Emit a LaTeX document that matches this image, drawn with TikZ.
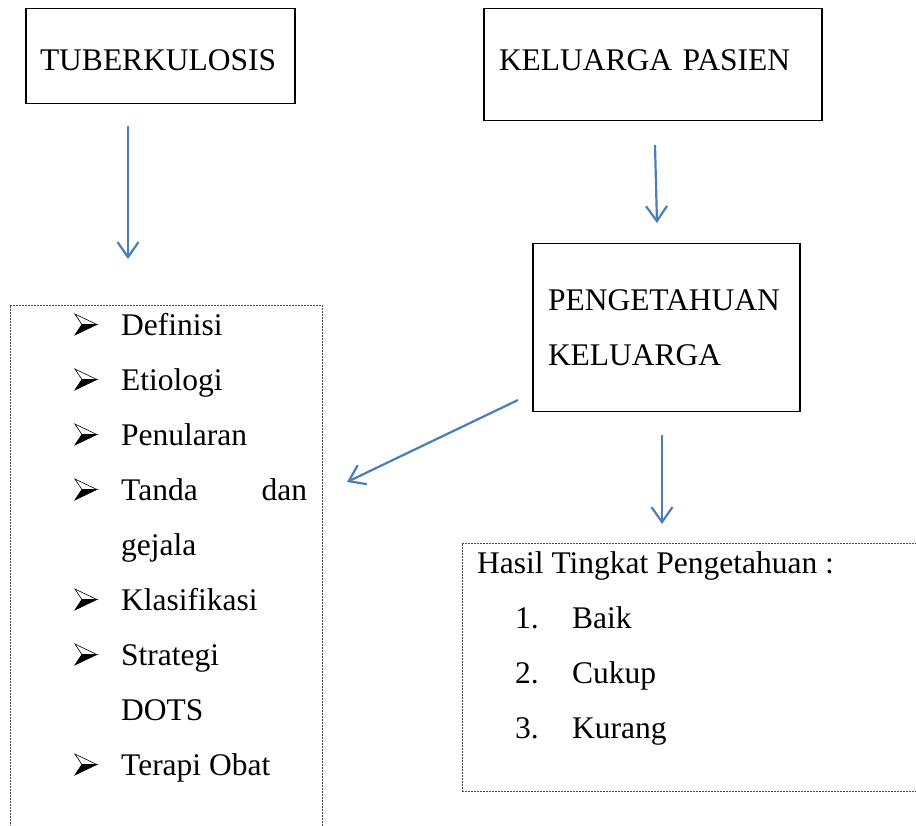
\documentclass[tikz,border=0pt]{standalone}
\usepackage{fontspec}
\setmainfont{Liberation Serif}
\usepackage{tikz}
\usetikzlibrary{arrows.meta,positioning}
\definecolor{arrowblue}{HTML}{4A7EBB}
\tikzstyle{block} = [rectangle, draw, line width=1.5pt, align=left, inner xsep=15pt]
\tikzstyle{frame} = [rectangle, draw=black!70, line width=0.8pt, dash pattern=on 2pt off 1pt]
\tikzstyle{line} = [draw, arrowblue, line width=2.2pt, -{Straight Barb[length=15pt,width=21pt]}]
\tikzstyle{item} = [anchor=base west, inner sep=0pt]
\newcommand{\bul}{\llap{\tikz[baseline=0pt, line width=0.6pt, line join=miter]{%
	\filldraw[fill=white] (0pt,21pt) -- (22pt,10.5pt) -- (7pt,10.5pt) -- cycle;
	\filldraw[fill=black] (0pt,0pt) -- (22pt,10.5pt) -- (7pt,10.5pt) -- cycle;}\hspace{24pt}}}

\begin{document}
\begin{tikzpicture}[x=1pt, y=-1pt, font=\fontsize{31.5}{55}\selectfont]
	\useasboundingbox (0,0) rectangle (916,825);
	\clip (0,0) rectangle (916,825);
	
	% Place nodes
	\node [block, text width=241pt, inner xsep=14pt, minimum height=95pt, text height=28.5pt, text depth=0pt] (tbc) at (160.5,55.75) {TUBERKULOSIS};
	\node [block, text width=308pt, minimum height=112pt, text height=21pt, text depth=10pt] (pasien) at (653,64.5) {KELUARGA PASIEN};
	\node [block, text width=237pt, minimum height=168pt] (pengetahuan) at (666.5,327.5) {PENGETAHUAN\\KELUARGA};
	
	\node [frame, anchor=north west, minimum width=312pt, minimum height=560pt] (topik) at (10,305) {};
	\node [frame, anchor=north west, minimum width=480pt, minimum height=248pt] (hasil) at (462,543) {};
	
	% List of topics
	\node [item] (definisi) at (121,335) {\bul Definisi};
	\node [item] (etiologi) at (121,390) {\bul Etiologi};
	\node [item] (penularan) at (121,445) {\bul Penularan};
	\node [item] (tanda) at (121,500) {\bul\makebox[186pt][l]{Tanda\hfill dan}};
	\node [item] (gejala) at (121,555) {gejala};
	\node [item] (klasifikasi) at (121,610) {\bul Klasifikasi};
	\node [item] (strategi) at (121,665) {\bul Strategi};
	\node [item] (dots) at (121,720) {DOTS};
	\node [item] (terapi) at (121,775) {\bul Terapi Obat};
	
	% Result levels
	\node [item] (judul) at (477,573) {Hasil Tingkat Pengetahuan :};
	\node [item] (baik) at (515,628) {\makebox[57pt][l]{1.}Baik};
	\node [item] (cukup) at (515,683) {\makebox[57pt][l]{2.}Cukup};
	\node [item] (kurang) at (515,738) {\makebox[57pt][l]{3.}Kurang};
	
	% Arrow ends
	\coordinate (tbc-out) at (128,126);
	\coordinate (topik-in) at (128,259);
	\coordinate (pasien-out) at (655,145);
	\coordinate (pengetahuan-in) at (657,223);
	\coordinate (pengetahuan-kiri) at (518,400);
	\coordinate (topik-kanan) at (347,482);
	\coordinate (pengetahuan-bawah) at (662,435);
	\coordinate (hasil-in) at (662,524);
	
	% Draw edges
	\path [line] (tbc-out) -- (topik-in);
	\path [line] (pasien-out) -- (pengetahuan-in);
	\path [line] (pengetahuan-kiri) -- (topik-kanan);
	\path [line] (pengetahuan-bawah) -- (hasil-in);
	
\end{tikzpicture}
\end{document}
